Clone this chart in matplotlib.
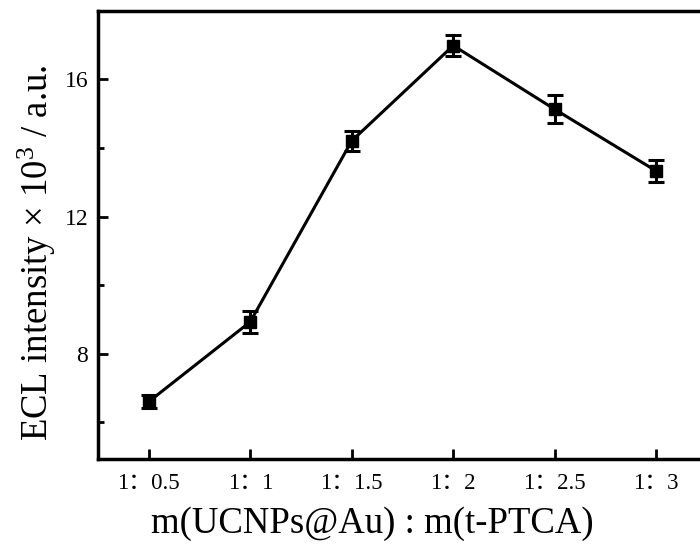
import matplotlib
matplotlib.use('Agg')
import matplotlib.pyplot as plt
from matplotlib.ticker import MultipleLocator

plt.rcParams['font.family'] = ['Liberation Serif', 'Noto Sans CJK SC']
plt.rcParams['mathtext.fontset'] = 'custom'
plt.rcParams['mathtext.rm'] = 'Liberation Serif'
plt.rcParams['mathtext.it'] = 'Liberation Serif:italic'

# data
ratios = ['1：0.5', '1：1', '1：1.5', '1：2', '1：2.5', '1：3']
intensity = [6.6, 8.93, 14.21, 16.99, 15.13, 13.33]
err = [0.19, 0.32, 0.3, 0.3, 0.41, 0.32]

fig = plt.figure(figsize=(7, 5.47), dpi=100)
ax = fig.add_axes([0.14, 0.161, 0.87, 0.819])

x = list(range(len(ratios)))
ax.errorbar(x, intensity, yerr=err, color='black', lw=2.2, marker='s', ms=8,
            capsize=6, capthick=2.2, elinewidth=2.2)

ax.set_xlim(-0.5, 5.5)
ax.set_ylim(4.93, 18.0)
ax.set_xticks(x)
ax.set_xticklabels(ratios)
ax.yaxis.set_major_locator(MultipleLocator(4))
ax.yaxis.set_minor_locator(MultipleLocator(2))
ax.set_yticks([8, 12, 16])

ax.tick_params(axis='both', direction='in', width=2, length=7)
ax.tick_params(axis='y', which='minor', direction='in', width=2, length=4)
ax.tick_params(axis='x', labelsize=16.5, pad=10)
ax.tick_params(axis='y', labelsize=17, pad=7)
for s in ax.spines.values():
    s.set_linewidth(2.5)

ax.set_xlabel('m(UCNPs@Au) : m(t-PTCA)', fontsize=26.5)
ax.set_ylabel(r'ECL intensity × $\mathregular{10^3}$ / a.u.', fontsize=26.5)
ax.xaxis.set_label_coords(0.45, -0.107, transform=ax.transAxes)
ax.yaxis.set_label_coords(-0.066, 0.46, transform=ax.transAxes)

fig.savefig('out.png', dpi=100)
